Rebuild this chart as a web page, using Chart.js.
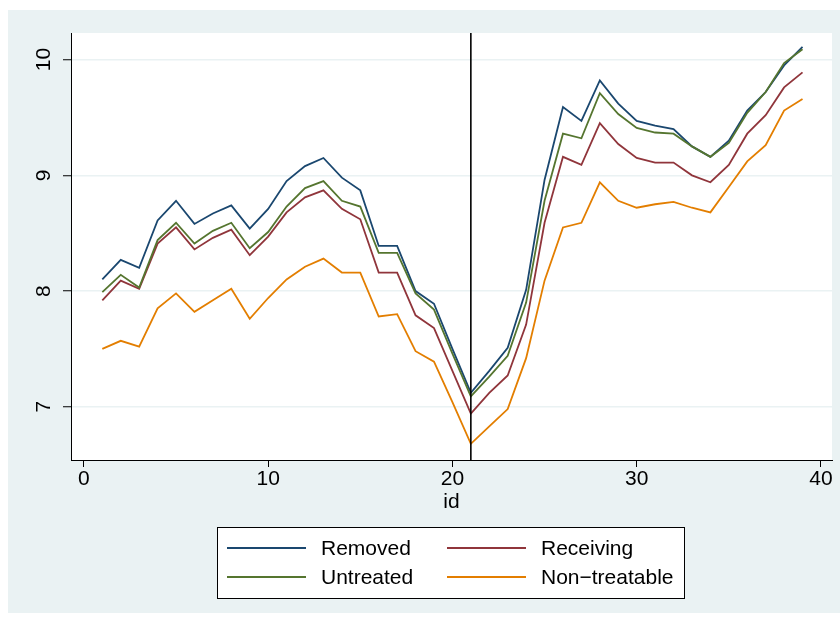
<!DOCTYPE html>
<html>
<head>
<meta charset="utf-8">
<script src="https://cdn.jsdelivr.net/npm/chart.js@4.4.1/dist/chart.umd.min.js"></script>
<style>
    html, body { margin: 0; padding: 0; background: #ffffff; }
    #wrap { width: 840px; height: 617px; }
</style>
</head>
<body>
<div id="wrap"><canvas id="chart" width="840" height="617"></canvas></div>
<script>
const ids = [1, 2, 3, 4, 5, 6, 7, 8, 9, 10, 11, 12, 13, 14, 15, 16, 17, 18, 19, 20,
    21, 22, 23, 24, 25, 26, 27, 28, 29, 30, 31, 32, 33, 34, 35, 36, 37, 38, 39];

const removed = [8.10, 8.27, 8.20, 8.61, 8.78, 8.58, 8.67, 8.74, 8.54, 8.71,
    8.95, 9.08, 9.15, 8.98, 8.87, 8.39, 8.39, 8.00, 7.89, 7.50,
    7.12, 7.31, 7.51, 8.01, 8.96, 9.59, 9.47, 9.82, 9.62, 9.47,
    9.43, 9.40, 9.25, 9.16, 9.30, 9.56, 9.72, 9.95, 10.11];

const receiving = [7.92, 8.09, 8.02, 8.41, 8.55, 8.36, 8.46, 8.53, 8.31, 8.47,
    8.68, 8.81, 8.87, 8.71, 8.62, 8.16, 8.16, 7.79, 7.68, 7.31,
    6.94, 7.12, 7.27, 7.71, 8.59, 9.16, 9.09, 9.45, 9.27, 9.15,
    9.11, 9.11, 9.00, 8.94, 9.09, 9.36, 9.52, 9.76, 9.89];

const untreated = [7.99, 8.14, 8.03, 8.44, 8.59, 8.41, 8.52, 8.59, 8.37, 8.51,
    8.73, 8.89, 8.95, 8.78, 8.73, 8.33, 8.33, 7.98, 7.84, 7.46,
    7.09, 7.26, 7.44, 7.90, 8.78, 9.36, 9.32, 9.71, 9.53, 9.41,
    9.37, 9.36, 9.25, 9.16, 9.28, 9.54, 9.72, 9.97, 10.09];

const nonTreatable = [7.50, 7.57, 7.52, 7.85, 7.98, 7.82, 7.92, 8.02, 7.76, 7.94,
    8.10, 8.21, 8.28, 8.16, 8.16, 7.78, 7.80, 7.48, 7.39, 7.04,
    6.68, 6.83, 6.98, 7.42, 8.09, 8.55, 8.59, 8.94, 8.78, 8.72,
    8.75, 8.77, 8.72, 8.68, 8.90, 9.12, 9.26, 9.56, 9.66];

const seriesNames = ['Removed', 'Receiving', 'Untreated', 'Non\u2212treatable'];
const seriesColors = ['#1a476f', '#90353b', '#55752f', '#e37e00'];
const xTicks = [0, 10, 20, 30, 40];
const yTicks = [7, 8, 9, 10];
const cutoffId = 21;

const BG = '#eaf2f3';
const FONT = '"Liberation Sans", Arial, sans-serif';
const FONT_SIZE = 21;

function toPoints(values) {
    return values.map((v, i) => ({ x: ids[i], y: v }));
}

// outer grey-blue region + white plot region, then the vertical reference line
const backgroundPlugin = {
    id: 'stataBackground',
    beforeDraw(chart) {
        const { ctx, chartArea } = chart;
        ctx.save();
        ctx.fillStyle = '#ffffff';
        ctx.fillRect(0, 0, chart.width, chart.height);
        ctx.fillStyle = BG;
        ctx.fillRect(8, 10, chart.width - 8, chart.height - 14);
        ctx.fillStyle = '#ffffff';
        ctx.fillRect(chartArea.left, chartArea.top,
            chartArea.right - chartArea.left, chartArea.bottom - chartArea.top);
        ctx.restore();
    },
    afterDatasetsDraw(chart) {
        const { ctx, chartArea } = chart;
        const x = chart.scales.x.getPixelForValue(cutoffId);
        ctx.save();
        ctx.strokeStyle = '#000000';
        ctx.lineWidth = 1.6;
        ctx.beginPath();
        ctx.moveTo(x, chartArea.top);
        ctx.lineTo(x, chartArea.bottom);
        ctx.stroke();
        ctx.restore();
    },
};

// 2 x 2 boxed legend under the plot, as Stata lays it out
const legendPlugin = {
    id: 'stataLegend',
    afterDraw(chart) {
        const { ctx } = chart;
        const box = { x: 217.5, y: 527.5, w: 467, h: 71 };
        const cols = [227, 447];
        const rows = [548, 577];

        ctx.save();
        ctx.fillStyle = '#ffffff';
        ctx.fillRect(box.x, box.y, box.w, box.h);
        ctx.strokeStyle = '#000000';
        ctx.lineWidth = 1;
        ctx.strokeRect(box.x, box.y, box.w, box.h);

        ctx.font = FONT_SIZE + 'px ' + FONT;
        ctx.textBaseline = 'middle';
        ctx.textAlign = 'left';

        chart.data.datasets.forEach((ds, i) => {
            const cx = cols[i % 2];
            const cy = rows[Math.floor(i / 2)];
            ctx.strokeStyle = ds.borderColor;
            ctx.lineWidth = 1.8;
            ctx.beginPath();
            ctx.moveTo(cx, cy);
            ctx.lineTo(cx + 79, cy);
            ctx.stroke();
            ctx.fillStyle = '#000000';
            ctx.fillText(ds.label, cx + 94, cy + 1.5);
        });
        ctx.restore();
    },
};

const datasets = [removed, receiving, untreated, nonTreatable].map((values, i) => ({
    label: seriesNames[i],
    data: toPoints(values),
    borderColor: seriesColors[i],
    backgroundColor: seriesColors[i],
    borderWidth: 1.8,
    pointRadius: 0,
    tension: 0,
    fill: false,
    order: 4 - i,
}));

new Chart(document.getElementById('chart'), {
    type: 'line',
    data: { datasets },
    plugins: [backgroundPlugin, legendPlugin],
    options: {
        responsive: false,
        animation: false,
        layout: {
            padding: { left: 8, right: 8, top: 33, bottom: 102 },
        },
        plugins: {
            legend: { display: false },
            tooltip: { enabled: false },
        },
        scales: {
            x: {
                type: 'linear',
                min: -0.7,
                max: 40.6,
                afterBuildTicks: (scale) => {
                    scale.ticks = xTicks.map((v) => ({ value: v }));
                },
                afterFit: (scale) => {
                    scale.height = 55;
                },
                grid: {
                    drawOnChartArea: false,
                    drawTicks: true,
                    tickLength: 7,
                    tickColor: '#000000',
                    tickWidth: 1,
                },
                border: { display: true, color: '#000000', width: 1 },
                ticks: {
                    color: '#000000',
                    padding: 0,
                    maxRotation: 0,
                    font: { family: FONT, size: FONT_SIZE },
                },
                title: {
                    display: true,
                    text: 'id',
                    color: '#000000',
                    padding: 0,
                    font: { family: FONT, size: FONT_SIZE },
                },
            },
            y: {
                type: 'linear',
                min: 6.54,
                max: 10.23,
                afterBuildTicks: (scale) => {
                    scale.ticks = yTicks.map((v) => ({ value: v }));
                },
                afterFit: (scale) => {
                    scale.width = 63;
                },
                grid: {
                    color: BG,
                    lineWidth: 1.5,
                    drawTicks: true,
                    tickLength: 8,
                    tickColor: '#000000',
                    tickWidth: 1,
                },
                border: { display: true, color: '#000000', width: 1 },
                ticks: {
                    color: '#000000',
                    padding: 7,
                    minRotation: 90,
                    maxRotation: 90,
                    crossAlign: 'center',
                    font: { family: FONT, size: FONT_SIZE },
                },
            },
        },
    },
});
</script>
</body>
</html>
